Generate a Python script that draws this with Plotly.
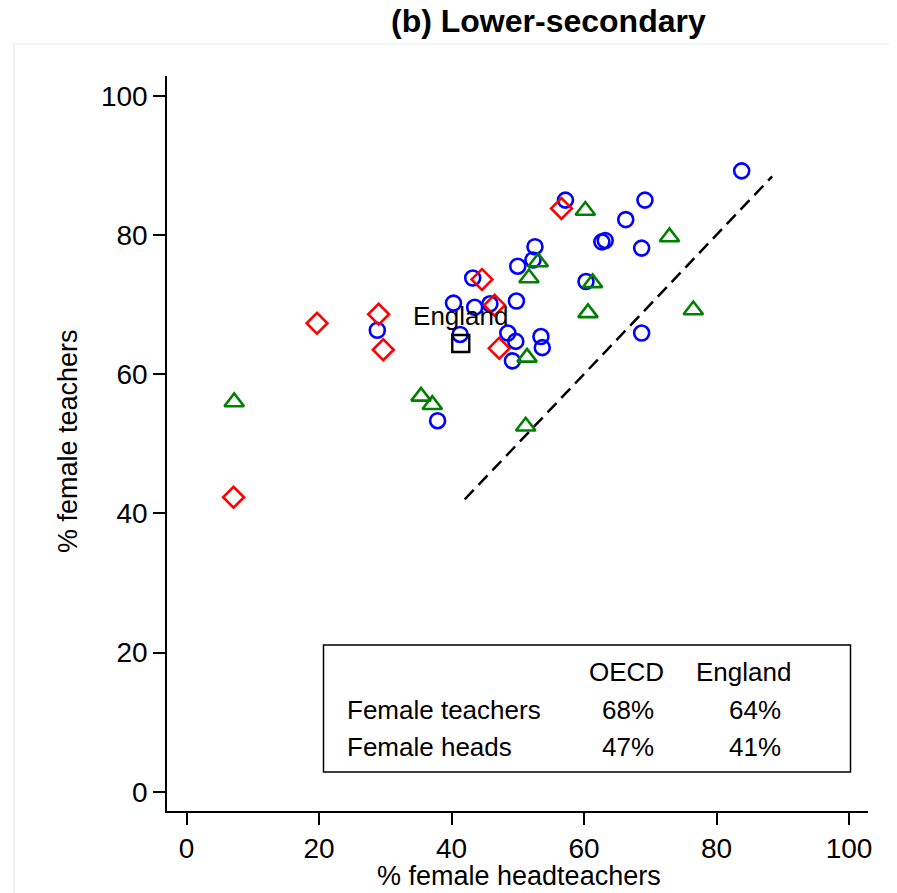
import plotly.graph_objects as go

# ---- data ----
blue_x = [83.8, 57.2, 69.2, 66.3, 62.7, 63.2, 68.7, 52.6, 52.3, 50.0, 43.2, 60.3, 40.3, 43.5,
          49.8, 45.8, 41.3, 48.5, 49.7, 53.5, 53.7, 49.2, 68.7, 37.9, 28.8]
blue_y = [89.2, 85.0, 85.0, 82.2, 79.0, 79.2, 78.1, 78.3, 76.4, 75.5, 73.8, 73.3, 70.2, 69.6,
          70.5, 70.1, 65.7, 65.9, 64.7, 65.4, 63.8, 61.9, 65.9, 53.3, 66.3]

red_x = [56.6, 44.6, 46.5, 47.2, 29.0, 19.7, 29.7, 7.1]
red_y = [83.8, 73.6, 69.9, 63.7, 68.6, 67.3, 63.5, 42.3]

green_x = [60.2, 72.9, 53.1, 51.7, 61.3, 60.6, 76.5, 51.4, 35.4, 37.1, 51.2, 7.2]
green_y = [83.5, 79.7, 76.1, 73.8, 73.1, 68.8, 69.2, 62.4, 56.8, 55.6, 52.5, 56.0]

england_x = [41.4]
england_y = [64.4]
england_label = "England"

diag_x = [42.0, 88.4]
diag_y = [42.0, 88.4]

table_header = ["OECD", "England"]
table_rows = ["Female teachers", "Female heads"]
table_oecd = ["68%", "47%"]
table_england = ["64%", "41%"]

tick_vals = [0, 20, 40, 60, 80, 100]

title_text = "<b>(b) Lower-secondary</b>"
x_title = "% female headteachers"
y_title = "% female teachers"

# ---- layout geometry (reference pixels; page body adds an 8px offset) ----
OFF = 8
W, H = 897 - OFF, 893 - OFF
L, R, T, B = 167 - OFF, 29, 76 - OFF, 82
PW, PH = W - L - R, H - T - B
FONT = "Liberation Sans, Arial, sans-serif"

X0PX, XSC = 186.5, 6.625   # reference pixel of x=0, px per unit
Y0PX, YSC = 791.7, 6.96    # reference pixel of y=0, px per unit


def dx(px):
    return (px - X0PX) / XSC


def dy(py):
    return (Y0PX - py) / YSC


def paper_x(px):
    return (px - OFF - L) / PW


def paper_y(py):
    return (H - B - (py - OFF)) / PH


fig = go.Figure()

fig.add_trace(go.Scatter(x=diag_x, y=diag_y, mode="lines",
                         line=dict(color="black", width=2.5, dash="13px,7px"),
                         hoverinfo="skip", showlegend=False))

fig.add_trace(go.Scatter(x=blue_x, y=blue_y, mode="markers",
                         marker=dict(symbol="circle-open", size=15, color="#0000ff",
                                     line=dict(width=2.6, color="#0000ff")),
                         showlegend=False))
fig.add_trace(go.Scatter(x=green_x, y=green_y, mode="markers",
                         marker=dict(symbol="triangle-up-open", size=17, color="#008000",
                                     line=dict(width=2.6, color="#008000")),
                         showlegend=False))
fig.add_trace(go.Scatter(x=red_x, y=red_y, mode="markers",
                         marker=dict(symbol="diamond-open", size=16, color="#ff0000",
                                     line=dict(width=2.6, color="#ff0000")),
                         showlegend=False))
fig.add_trace(go.Scatter(x=england_x, y=england_y, mode="markers+text",
                         text=[england_label], textposition="top center",
                         textfont=dict(family=FONT, size=26, color="black"),
                         marker=dict(symbol="square-open", size=17, color="black",
                                     line=dict(width=2.4, color="black")),
                         showlegend=False))

annotations = []
# title
annotations.append(dict(text=title_text, x=paper_x(548.5), y=paper_y(21), xref="paper", yref="paper",
                        showarrow=False, xanchor="center", yanchor="middle",
                        font=dict(family=FONT, size=32, color="black")))
# axis titles
annotations.append(dict(text=x_title, x=paper_x(519), y=paper_y(876), xref="paper", yref="paper",
                        showarrow=False, xanchor="center", yanchor="middle",
                        font=dict(family=FONT, size=27, color="black")))
annotations.append(dict(text=y_title, x=paper_x(68), y=paper_y(441), xref="paper", yref="paper",
                        showarrow=False, xanchor="center", yanchor="middle", textangle=-90,
                        font=dict(family=FONT, size=27, color="black")))

# table in the box
tf = dict(family=FONT, size=26, color="black")
hdr_x = [626, 743]
for i, h in enumerate(table_header):
    annotations.append(dict(text=h, x=dx(hdr_x[i]), y=dy(672), xref="x", yref="y", showarrow=False,
                            xanchor="center", yanchor="middle", font=tf))
row_y = [710, 747]
for i, r in enumerate(table_rows):
    annotations.append(dict(text=r, x=dx(345), y=dy(row_y[i]), xref="x", yref="y", showarrow=False,
                            xanchor="left", yanchor="middle", font=tf))
    annotations.append(dict(text=table_oecd[i], x=dx(628), y=dy(row_y[i]), xref="x", yref="y",
                            showarrow=False, xanchor="center", yanchor="middle", font=tf))
    annotations.append(dict(text=table_england[i], x=dx(755), y=dy(row_y[i]), xref="x", yref="y",
                            showarrow=False, xanchor="center", yanchor="middle", font=tf))

shapes = [
    # faint outer graph-region border
    dict(type="rect", xref="paper", yref="paper", x0=paper_x(14), y0=paper_y(905),
         x1=paper_x(910), y1=paper_y(44), line=dict(color="#e4ecec", width=1.2), layer="below"),
    # table box
    dict(type="rect", xref="x", yref="y", x0=dx(323.5), x1=dx(850.5), y0=dy(772), y1=dy(645),
         line=dict(color="black", width=1.5), fillcolor="white", layer="below"),
]

fig.update_layout(
    width=W, height=H,
    margin=dict(l=L, r=R, t=T, b=B, autoexpand=False),
    paper_bgcolor="white", plot_bgcolor="white",
    font=dict(family=FONT, size=27, color="black"),
    annotations=annotations, shapes=shapes,
    showlegend=False,
)
axis_common = dict(showline=True, linecolor="black", linewidth=1.6, ticks="outside", ticklen=12,
                   tickwidth=1.5, tickcolor="black", showgrid=False, zeroline=False,
                   tickvals=tick_vals, tickfont=dict(family=FONT, size=28, color="black"))
fig.update_xaxes(range=[dx(L + OFF), dx(L + OFF + PW)], **axis_common)
fig.update_yaxes(range=[dy(H - B + OFF), dy(T + OFF)], **axis_common)

fig.write_html("out.html")
